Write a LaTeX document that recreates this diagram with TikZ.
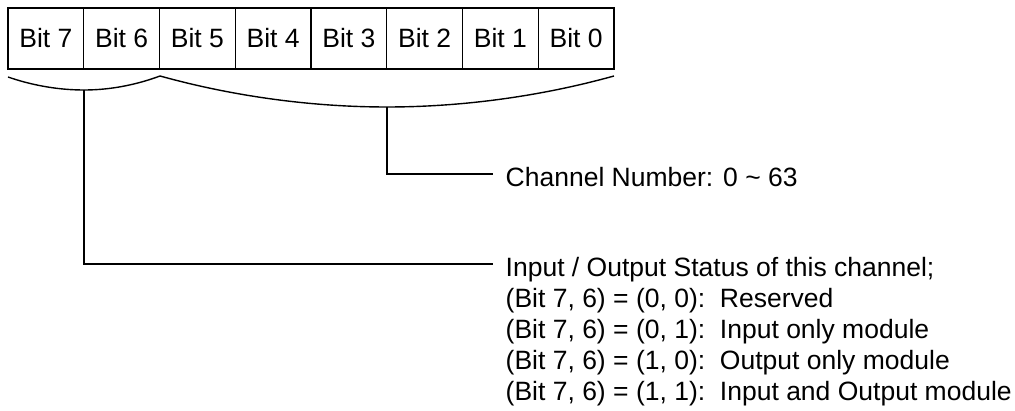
\documentclass[tikz,border=0pt]{standalone}
\usepackage{fontspec}
\setmainfont{Liberation Sans}
\begin{document}
\begin{tikzpicture}[x=1pt,y=-1pt,line width=1.4pt,
  txt/.style={font=\fontsize{26.5}{31}\selectfont},
  bitbox/.style={txt,draw,minimum width=75.75pt,minimum height=61pt,inner sep=0pt},
  lbl/.style={txt,anchor=base west,inner sep=0pt},
  brace/.style={line width=1.4pt},
  conn/.style={line width=1.4pt}]
\useasboundingbox (0,0) rectangle (1015,411);
\foreach \b [count=\i from 0] in {7,6,5,4,3,2,1,0}
  \node[bitbox] (bit\b) at ({8+75.75*\i+37.875},38.5) {Bit \b};
% braces
\draw[brace] (8,77) parabola bend (84,90) (160,76);
\draw[brace] (160,76) parabola bend (387,107) (614,76);
\coordinate (lb) at (84,90);
\coordinate (rb) at (387,107);
\coordinate (ce) at (493,174);
\coordinate (se) at (493,264);
% texts
\node[lbl] (chan) at (505,186.5) {Channel Number: 0 \textasciitilde{} 63};
\node[lbl] (st0) at (505,277) {Input / Output Status of this channel;};
\node[lbl] (st1) at (505,308) {(Bit 7, 6) = (0, 0):\ \ Reserved};
\node[lbl] (st2) at (505,339) {(Bit 7, 6) = (0, 1):\ \ Input only module};
\node[lbl] (st3) at (505,370) {(Bit 7, 6) = (1, 0):\ \ Output only module};
\node[lbl] (st4) at (505,401) {(Bit 7, 6) = (1, 1):\ \ Input and Output module};
% connectors
\draw[conn] (rb) |- (ce);
\draw[conn] (lb) |- (se);
\end{tikzpicture}
\end{document}
